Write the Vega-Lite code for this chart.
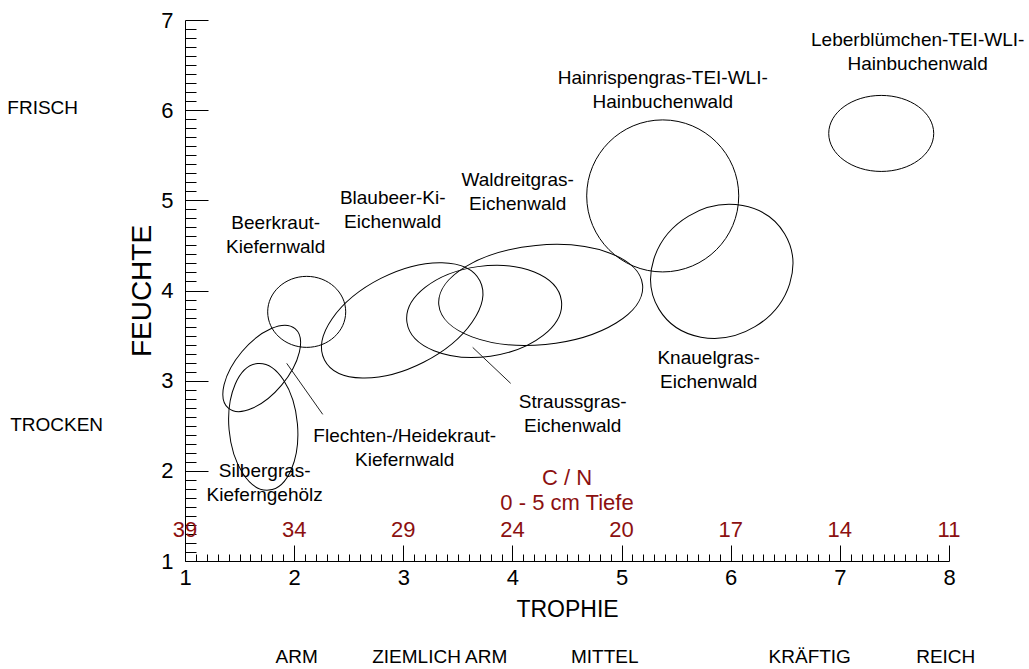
{
  "$schema": "https://vega.github.io/schema/vega-lite/v6.json",
  "width": 764,
  "height": 541,
  "autosize": {"type": "none"},
  "padding": {"left": 185, "top": 20, "right": 80, "bottom": 108},
  "background": "white",
  "config": {
    "view": {"stroke": null},
    "font": "Liberation Sans",
    "axis": {"labelFont": "Liberation Sans", "titleFont": "Liberation Sans"}
  },
  "encoding": {
    "x": {
      "field": "trophie",
      "type": "quantitative",
      "scale": {"domain": [1, 8], "nice": false, "zero": false},
      "axis": {
        "title": "TROPHIE",
        "titleFontSize": 23,
        "titleFontWeight": "normal",
        "titleColor": "#000",
        "titlePadding": 1,
        "tickCount": 70,
        "labelExpr": "datum.value % 1 === 0 ? format(datum.value, 'd') : ''",
        "labelFontSize": 22,
        "labelColor": "#000",
        "labelPadding": 22,
        "labelOverlap": false,
        "labelFlush": false,
        "labelBound": false,
        "tickSize": {"condition": {"test": "datum.value % 1 === 0", "value": -16}, "value": -7},
        "tickColor": "#000",
        "tickWidth": 1,
        "domainColor": "#000",
        "domainWidth": 1,
        "grid": false
      }
    },
    "y": {
      "field": "feuchte",
      "type": "quantitative",
      "scale": {"domain": [1, 7], "nice": false, "zero": false},
      "axis": {
        "title": "FEUCHTE",
        "titleFontSize": 28,
        "titleFontWeight": "normal",
        "titleColor": "#000",
        "titlePadding": 4,
        "tickCount": 60,
        "labelExpr": "datum.value % 1 === 0 ? format(datum.value, 'd') : ''",
        "labelFontSize": 22,
        "labelColor": "#000",
        "labelPadding": 35,
        "labelOverlap": false,
        "labelFlush": false,
        "labelBound": false,
        "tickSize": {"condition": {"test": "datum.value % 1 === 0", "value": -23}, "value": -11},
        "tickColor": "#000",
        "tickWidth": 1,
        "domainColor": "#000",
        "domainWidth": 1,
        "grid": false
      }
    }
  },
  "layer": [
    {
      "data": {
        "values": [
          {"name": "Beerkraut-Kiefernwald", "trophie": 2.115, "feuchte": 3.763, "durchmesser": 0.715, "winkel": 0},
          {"name": "Flechten-/Heidekraut-Kiefernwald", "trophie": 1.703, "feuchte": 3.136, "durchmesser": 0.951, "winkel": 310},
          {"name": "Silbergras-Kieferngehölz", "trophie": 1.717, "feuchte": 2.488, "durchmesser": 1.164, "winkel": 85},
          {"name": "Blaubeer-Ki-Eichenwald", "trophie": 2.99, "feuchte": 3.669, "durchmesser": 1.598, "winkel": 333},
          {"name": "Straussgras-Eichenwald", "trophie": 3.741, "feuchte": 3.768, "durchmesser": 1.429, "winkel": 352},
          {"name": "Waldreitgras-Eichenwald", "trophie": 4.259, "feuchte": 3.951, "durchmesser": 1.876, "winkel": 354.5},
          {"name": "Hainrispengras-TEI-WLI-Hainbuchenwald", "trophie": 5.377, "feuchte": 5.049, "durchmesser": 1.393, "winkel": 0},
          {"name": "Knauelgras-Eichenwald", "trophie": 5.918, "feuchte": 4.212, "durchmesser": 1.343, "winkel": 329},
          {"name": "Leberblümchen-TEI-WLI-Hainbuchenwald", "trophie": 7.379, "feuchte": 5.742, "durchmesser": 0.962, "winkel": 0}
        ]
      },
      "mark": {"type": "point", "filled": false, "color": "#000", "strokeWidth": 1, "opacity": 1},
      "encoding": {
        "shape": {
          "field": "name",
          "type": "nominal",
          "legend": null,
          "scale": {
            "domain": [
              "Beerkraut-Kiefernwald",
              "Flechten-/Heidekraut-Kiefernwald",
              "Silbergras-Kieferngehölz",
              "Blaubeer-Ki-Eichenwald",
              "Straussgras-Eichenwald",
              "Waldreitgras-Eichenwald",
              "Hainrispengras-TEI-WLI-Hainbuchenwald",
              "Knauelgras-Eichenwald",
              "Leberblümchen-TEI-WLI-Hainbuchenwald"
            ],
            "range": [
              "M1,0C1,0.503 0.552,0.91 0,0.91C-0.552,0.91 -1,0.503 -1,0C-1,-0.503 -0.552,-0.91 0,-0.91C0.552,-0.91 1,-0.503 1,0Z",
              "M1,0C1,0.276 0.552,0.5 0,0.5C-0.552,0.5 -1,0.276 -1,0C-1,-0.276 -0.552,-0.5 0,-0.5C0.552,-0.5 1,-0.276 1,0Z",
              "M1,0C1,0.298 0.552,0.54 0,0.54C-0.552,0.54 -1,0.298 -1,0C-1,-0.298 -0.552,-0.54 0,-0.54C0.552,-0.54 1,-0.298 1,0Z",
              "M1,0C1,0.298 0.552,0.54 0,0.54C-0.552,0.54 -1,0.298 -1,0C-1,-0.298 -0.552,-0.54 0,-0.54C0.552,-0.54 1,-0.298 1,0Z",
              "M1,0C1,0.32 0.552,0.58 0,0.58C-0.552,0.58 -1,0.32 -1,0C-1,-0.32 -0.552,-0.58 0,-0.58C0.552,-0.58 1,-0.32 1,0Z",
              "M1,0C1,0.268 0.552,0.486 0,0.486C-0.552,0.486 -1,0.268 -1,0C-1,-0.268 -0.552,-0.486 0,-0.486C0.552,-0.486 1,-0.268 1,0Z",
              "M1,0C1,0.552 0.552,1 0,1C-0.552,1 -1,0.552 -1,0C-1,-0.552 -0.552,-1 0,-1C0.552,-1 1,-0.552 1,0Z",
              "M1,0C1,0.486 0.552,0.88 0,0.88C-0.552,0.88 -1,0.486 -1,0C-1,-0.486 -0.552,-0.88 0,-0.88C0.552,-0.88 1,-0.486 1,0Z",
              "M1,0C1,0.4 0.552,0.724 0,0.724C-0.552,0.724 -1,0.4 -1,0C-1,-0.4 -0.552,-0.724 0,-0.724C0.552,-0.724 1,-0.4 1,0Z"
            ]
          }
        },
        "size": {
          "field": "durchmesser",
          "type": "quantitative",
          "legend": null,
          "scale": {"type": "pow", "exponent": 2, "domain": [0, 1], "range": [0, 11912]}
        },
        "angle": {
          "field": "winkel",
          "type": "quantitative",
          "legend": null,
          "scale": {"domain": [0, 360], "range": [0, 360]}
        }
      }
    },
    {
      "data": {
        "values": [
          {"trophie": 1.932, "feuchte": 3.192, "trophie2": 2.262, "feuchte2": 2.626},
          {"trophie": 3.636, "feuchte": 3.369, "trophie2": 3.984, "feuchte2": 2.97}
        ]
      },
      "mark": {"type": "rule", "color": "#222", "strokeWidth": 1},
      "encoding": {
        "x2": {"field": "trophie2"},
        "y2": {"field": "feuchte2"}
      }
    },
    {
      "data": {
        "values": [
          {"text": "Leberblümchen-TEI-WLI-\nHainbuchenwald", "trophie": 7.713, "feuchte": 6.64},
          {"text": "Hainrispengras-TEI-WLI-\nHainbuchenwald", "trophie": 5.377, "feuchte": 6.229},
          {"text": "Waldreitgras-\nEichenwald", "trophie": 4.048, "feuchte": 5.093},
          {"text": "Blaubeer-Ki-\nEichenwald", "trophie": 2.903, "feuchte": 4.888},
          {"text": "Beerkraut-\nKiefernwald", "trophie": 1.831, "feuchte": 4.616},
          {"text": "Knauelgras-\nEichenwald", "trophie": 5.798, "feuchte": 3.114},
          {"text": "Straussgras-\nEichenwald", "trophie": 4.552, "feuchte": 2.626},
          {"text": "Flechten-/Heidekraut-\nKiefernwald", "trophie": 3.013, "feuchte": 2.255},
          {"text": "Silbergras-\nKieferngehölz", "trophie": 1.73, "feuchte": 1.867}
        ]
      },
      "mark": {"type": "text", "fontSize": 19, "color": "#000", "align": "center", "baseline": "middle", "lineBreak": "\n", "lineHeight": 24, "dy": -12},
      "encoding": {"text": {"field": "text"}}
    },
    {
      "data": {
        "values": [
          {"text": "FRISCH", "trophie": -0.304, "feuchte": 6.019},
          {"text": "TROCKEN", "trophie": -0.176, "feuchte": 2.504},
          {"text": "ARM", "trophie": 2.023, "feuchte": -0.068},
          {"text": "ZIEMLICH ARM", "trophie": 3.334, "feuchte": -0.068},
          {"text": "MITTEL", "trophie": 4.846, "feuchte": -0.068},
          {"text": "KRÄFTIG", "trophie": 6.724, "feuchte": -0.068},
          {"text": "REICH", "trophie": 7.97, "feuchte": -0.068}
        ]
      },
      "mark": {"type": "text", "fontSize": 19, "color": "#000", "align": "center", "baseline": "middle"},
      "encoding": {"text": {"field": "text"}}
    },
    {
      "data": {
        "values": [
          {"text": "39", "trophie": 1, "feuchte": 1.34},
          {"text": "34", "trophie": 2, "feuchte": 1.34},
          {"text": "29", "trophie": 3, "feuchte": 1.34},
          {"text": "24", "trophie": 4, "feuchte": 1.34},
          {"text": "20", "trophie": 5, "feuchte": 1.34},
          {"text": "17", "trophie": 6, "feuchte": 1.34},
          {"text": "14", "trophie": 7, "feuchte": 1.34},
          {"text": "11", "trophie": 8, "feuchte": 1.34},
          {"text": "C / N", "trophie": 4.5, "feuchte": 1.917},
          {"text": "0 - 5 cm Tiefe", "trophie": 4.5, "feuchte": 1.64}
        ]
      },
      "mark": {"type": "text", "fontSize": 22, "color": "#8c1010", "align": "center", "baseline": "middle"},
      "encoding": {"text": {"field": "text"}}
    }
  ]
}
